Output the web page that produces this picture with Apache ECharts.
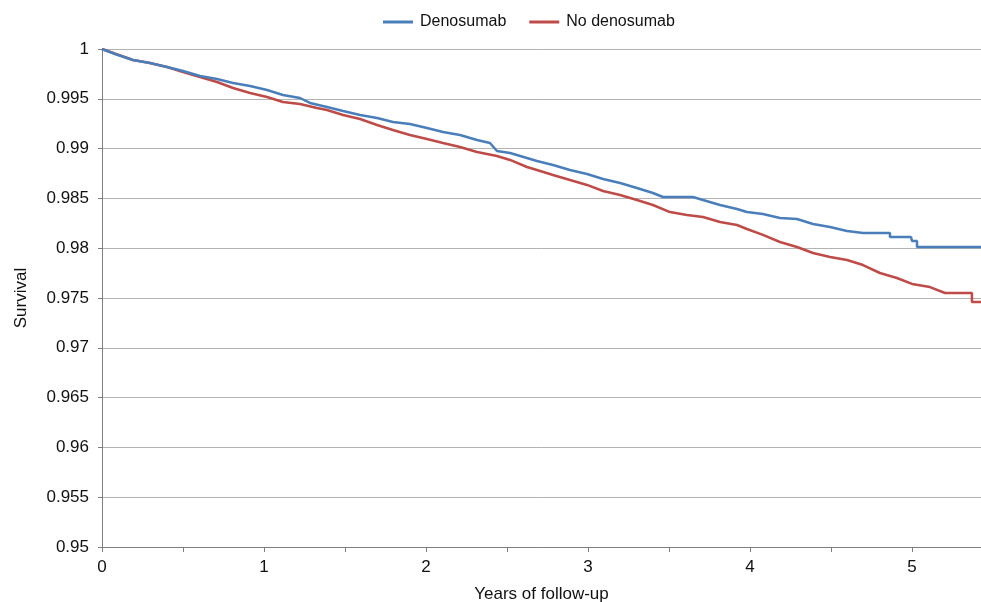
<!DOCTYPE html>
<html>
<head>
<meta charset="utf-8">
<script src="https://cdn.jsdelivr.net/npm/echarts@6/dist/echarts.min.js"></script>
<style>
html,body{margin:0;padding:0;background:#fff;}
#chart{width:981px;height:602px;}
</style>
</head>
<body>
<div id="chart"></div>
<script>
// Kaplan-Meier estimates (years, survival)
const denoTimes = [0.000,0.080,0.191,0.296,0.401,0.500,0.605,0.710,0.809,0.914,1.019,1.117,1.222,1.284,1.389,1.488,1.593,1.698,1.796,1.901,2.006,2.105,2.210,2.315,2.395,2.438,2.519,2.623,2.685,2.784,2.889,2.994,3.093,3.198,3.302,3.401,3.463,3.648,3.710,3.815,3.920,3.981,4.080,4.185,4.290,4.389,4.494,4.599,4.698,4.864,4.864,4.994,5.000,5.031,5.031,5.426];
const denoSurv  = [1.0000,0.99950,0.99890,0.99859,0.99819,0.99779,0.99729,0.99699,0.99659,0.99629,0.99588,0.99538,0.99508,0.99458,0.99418,0.99378,0.99337,0.99307,0.99267,0.99247,0.99207,0.99167,0.99137,0.99086,0.99056,0.98976,0.98956,0.98906,0.98876,0.98835,0.98785,0.98745,0.98695,0.98655,0.98604,0.98554,0.98514,0.98514,0.98484,0.98434,0.98394,0.98363,0.98343,0.98303,0.98293,0.98243,0.98213,0.98173,0.98153,0.98153,0.98112,0.98112,0.98072,0.98072,0.98012,0.98012];

const noDenoTimes = [0.000,0.191,0.296,0.401,0.500,0.605,0.710,0.809,0.914,1.019,1.117,1.222,1.327,1.389,1.488,1.593,1.698,1.796,1.901,2.006,2.105,2.210,2.315,2.438,2.519,2.623,2.685,2.784,2.889,2.994,3.093,3.198,3.302,3.401,3.506,3.611,3.710,3.815,3.920,3.981,4.080,4.185,4.290,4.389,4.494,4.599,4.698,4.802,4.907,5.000,5.111,5.204,5.370,5.370,5.426];
const noDenoSurv  = [1.0000,0.99890,0.99859,0.99819,0.99769,0.99719,0.99669,0.99608,0.99558,0.99518,0.99468,0.99448,0.99408,0.99388,0.99337,0.99297,0.99237,0.99187,0.99137,0.99096,0.99056,0.99016,0.98966,0.98926,0.98886,0.98815,0.98785,0.98735,0.98685,0.98635,0.98574,0.98534,0.98484,0.98434,0.98363,0.98333,0.98313,0.98263,0.98233,0.98193,0.98133,0.98062,0.98012,0.97952,0.97912,0.97882,0.97831,0.97751,0.97701,0.97641,0.97610,0.97550,0.97550,0.97460,0.97460];

const seriesNames = ['Denosumab','No denosumab'];
const xMax = 5.426;

const chart = echarts.init(document.getElementById('chart'), null, {renderer:'canvas'});
const font = 'Liberation Sans, Arial, Helvetica, sans-serif';
const zip = (t, s) => t.map((v, i) => [v, s[i]]);

chart.setOption({
  animation: false,
  textStyle: {fontFamily: font},
  legend: {
    top: 9, left: 378,
    icon: 'rect', itemWidth: 30, itemHeight: 3, itemGap: 23,
    textStyle: {fontFamily: font, fontSize: 16, color: '#111', padding: [0, 0, 0, 2]},
    data: seriesNames
  },
  grid: {left: 102, right: 0, top: 49, bottom: 55, containLabel: false, outerBoundsMode: 'none'},
  xAxis: {
    type: 'value', min: 0, max: xMax, interval: 1,
    name: 'Years of follow-up', nameLocation: 'middle', nameGap: 39,
    nameTextStyle: {fontFamily: font, fontSize: 17, color: '#111'},
    axisLine: {show: true, lineStyle: {color: '#7f7f7f', width: 1}},
    axisTick: {show: true, length: 5, lineStyle: {color: '#7f7f7f'}},
    minorTick: {show: true, splitNumber: 2, length: 5, lineStyle: {color: '#7f7f7f'}},
    axisLabel: {fontFamily: font, fontSize: 17, color: '#111', margin: 12,
      formatter: v => (Math.abs(v - Math.round(v)) < 1e-6 ? String(Math.round(v)) : '')},
    splitLine: {show: false}
  },
  yAxis: {
    type: 'value', min: 0.95, max: 1, interval: 0.005,
    name: 'Survival', nameLocation: 'middle', nameGap: 72, nameRotate: 90,
    nameTextStyle: {fontFamily: font, fontSize: 17, color: '#111'},
    axisLine: {show: true, lineStyle: {color: '#7f7f7f', width: 1}},
    axisTick: {show: true, length: 4, lineStyle: {color: '#7f7f7f'}},
    axisLabel: {fontFamily: font, fontSize: 17, color: '#111', margin: 13,
      formatter: v => String(+v.toFixed(3))},
    splitLine: {show: true, lineStyle: {color: '#b3b3b3', width: 1}}
  },
  series: [
    {name: seriesNames[0], type: 'line', showSymbol: false, symbol: 'none',
     data: zip(denoTimes, denoSurv), color: '#4a7ebb',
     lineStyle: {color: '#4a7ebb', width: 2.5}, z: 3},
    {name: seriesNames[1], type: 'line', showSymbol: false, symbol: 'none',
     data: zip(noDenoTimes, noDenoSurv), color: '#be4b48',
     lineStyle: {color: '#be4b48', width: 2.5}, z: 2}
  ]
});
</script>
</body>
</html>
